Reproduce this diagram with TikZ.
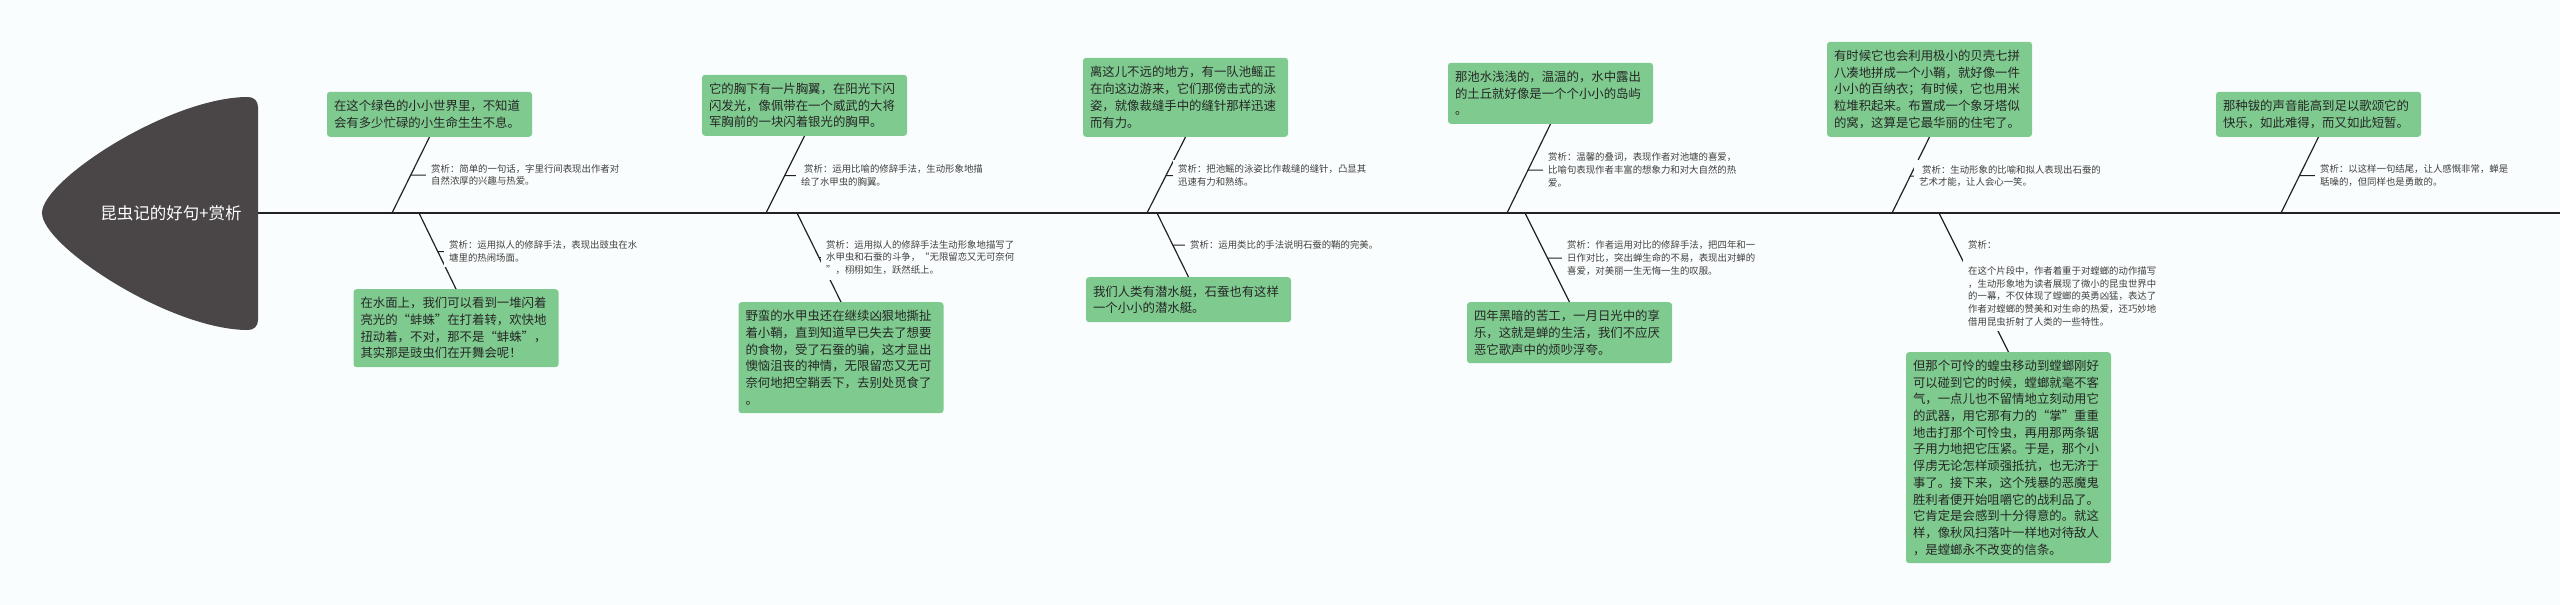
\documentclass[tikz,border=0pt]{standalone}
\usepackage{fontspec}
\newfontfamily\cjk{Noto Sans CJK SC}
\usetikzlibrary{calc}
\definecolor{bgc}{RGB}{250,253,253}
\definecolor{headc}{RGB}{74,69,70}
\definecolor{boxc}{RGB}{127,203,143}
\definecolor{txtc}{RGB}{38,38,38}
\definecolor{anac}{RGB}{64,64,64}
\definecolor{linec}{RGB}{34,34,34}
\pgfdeclarelayer{bottom}
\pgfdeclarelayer{lines}
\pgfsetlayers{bottom,lines,main}
\begin{document}
\begin{tikzpicture}[x=1pt,y=-1pt,
  sent/.style={fill=boxc, rounded corners=3pt, text=txtc,
    font=\cjk\fontsize{12.4}{16.7}\selectfont, align=left,
    text width=191pt, inner xsep=7pt, inner ysep=0pt},
  ana/.style={fill=bgc, text=anac, font=\cjk\fontsize{9.4}{12.8}\selectfont,
    align=left, inner sep=5pt, anchor=west},
  spineline/.style={draw=linec, line width=1.5pt},
  bone/.style={draw=linec, line width=1.2pt},
  tickline/.style={draw=linec, line width=1pt}]
\useasboundingbox (0,0) rectangle (2560,605);
\begin{pgfonlayer}{bottom}
\fill[bgc] (0,0) rectangle (2560,605);
\end{pgfonlayer}

% head
\fill[headc] (42,213) .. controls (42,180) and (170,97) .. (248,97)
  .. controls (254,97) and (258,101) .. (258,107) -- (258,320)
  .. controls (258,326) and (254,330) .. (248,330)
  .. controls (170,330) and (42,246) .. (42,213) -- cycle;
\node[text=white, font=\cjk\fontsize{16.5}{20}\selectfont] (title) at (171,213) {昆虫记的好句+赏析};

% spine coordinates
\coordinate (sp0) at (258,213);
\coordinate (sp1) at (2560,213);
\coordinate (s1u) at (392,213);
\coordinate (s1d) at (419,213);
\coordinate (s2u) at (766,213);
\coordinate (s2d) at (797,213);
\coordinate (s3u) at (1147,213);
\coordinate (s3d) at (1157,213);
\coordinate (s4u) at (1507,213);
\coordinate (s4d) at (1525,213);
\coordinate (s5u) at (1892,213);
\coordinate (s5d) at (1939,213);
\coordinate (s6u) at (2281,213);

% sentence boxes
\node[sent, anchor=south, minimum height=45pt] (B1) at (429.5,137) {在这个绿色的小小世界里，不知道\\会有多少忙碌的小生命生生不息。};
\node[sent, anchor=north, minimum height=78pt] (B2) at (456,289) {在水面上，我们可以看到一堆闪着\\亮光的“蚌蛛”在打着转，欢快地\\扭动着，不对，那不是“蚌蛛”，\\其实那是豉虫们在开舞会呢！};
\node[sent, anchor=south, minimum height=61pt] (B3) at (804.5,136) {它的胸下有一片胸翼，在阳光下闪\\闪发光，像佩带在一个威武的大将\\军胸前的一块闪着银光的胸甲。};
\node[sent, anchor=north, minimum height=111pt] (B4) at (841,302) {野蛮的水甲虫还在继续凶狠地撕扯\\着小鞘，直到知道早已失去了想要\\的食物，受了石蚕的骗，这才显出\\懊恼沮丧的神情，无限留恋又无可\\奈何地把空鞘丢下，去别处觅食了\\。};
\node[sent, anchor=south, minimum height=79pt] (B5) at (1185.5,137) {离这儿不远的地方，有一队池鳐正\\在向这边游来，它们那傍击式的泳\\姿，就像裁缝手中的缝针那样迅速\\而有力。};
\node[sent, anchor=north, minimum height=45pt] (B6) at (1188.5,277) {我们人类有潜水艇，石蚕也有这样\\一个小小的潜水艇。};
\node[sent, anchor=south, minimum height=61pt] (B7) at (1550.5,124) {那池水浅浅的，温温的，水中露出\\的土丘就好像是一个个小小的岛屿\\。};
\node[sent, anchor=north, minimum height=61pt] (B8) at (1569.5,302) {四年黑暗的苦工，一月日光中的享\\乐，这就是蝉的生活，我们不应厌\\恶它歌声中的烦吵浮夸。};
\node[sent, anchor=south, minimum height=95pt] (B9) at (1929.5,137) {有时候它也会利用极小的贝壳七拼\\八凑地拼成一个小鞘，就好像一件\\小小的百纳衣；有时候，它也用米\\粒堆积起来。布置成一个象牙塔似\\的窝，这算是它最华丽的住宅了。};
\node[sent, anchor=north, minimum height=211pt] (B10) at (2008.5,352) {但那个可怜的蝗虫移动到螳螂刚好\\可以碰到它的时候，螳螂就毫不客\\气，一点儿也不留情地立刻动用它\\的武器，用它那有力的“掌”重重\\地击打那个可怜虫，再用那两条锯\\子用力地把它压紧。于是，那个小\\俘虏无论怎样顽强抵抗，也无济于\\事了。接下来，这个残暴的恶魔鬼\\胜利者便开始咀嚼它的战利品了。\\它肯定是会感到十分得意的。就这\\样，像秋风扫落叶一样地对待敌人\\，是螳螂永不改变的信条。};
\node[sent, anchor=south, minimum height=45pt] (B11) at (2318.5,137) {那种钹的声音能高到足以歌颂它的\\快乐，如此难得，而又如此短暂。};

% analysis labels
\node[ana] (L1) at (426,175) {赏析：简单的一句话，字里行间表现出作者对\\自然浓厚的兴趣与热爱。};
\node[ana] (L2) at (444,251.5) {赏析：运用拟人的修辞手法，表现出豉虫在水\\塘里的热闹场面。};
\node[ana] (L3) at (796,175.5) {\hspace{3pt}赏析：运用比喻的修辞手法，生动形象地描\\绘了水甲虫的胸翼。};
\node[ana] (L4) at (821,257.5) {赏析：运用拟人的修辞手法生动形象地描写了\\水甲虫和石蚕的斗争，“无限留恋又无可奈何\\”，栩栩如生，跃然纸上。};
\node[ana] (L5) at (1173,175.5) {赏析：把池鳐的泳姿比作裁缝的缝针，凸显其\\迅速有力和熟练。};
\node[ana] (L6) at (1185,245) {赏析：运用类比的手法说明石蚕的鞘的完美。};
\node[ana] (L7) at (1543,170) {赏析：温馨的叠词，表现作者对池塘的喜爱，\\比喻句表现作者丰富的想象力和对大自然的热\\爱。};
\node[ana] (L8) at (1562,258) {赏析：作者运用对比的修辞手法，把四年和一\\日作对比，突出蝉生命的不易，表现出对蝉的\\喜爱，对美丽一生无悔一生的叹服。};
\node[ana] (L9) at (1914,176) {\hspace{3pt}赏析：生动形象的比喻和拟人表现出石蚕的\\艺术才能，让人会心一笑。};
\node[ana] (L10) at (1963,283.5) {赏析：\\[12.8pt]在这个片段中，作者着重于对螳螂的动作描写\\，生动形象地为读者展现了微小的昆虫世界中\\的一幕，不仅体现了螳螂的英勇凶猛，表达了\\作者对螳螂的赞美和对生命的热爱，还巧妙地\\借用昆虫折射了人类的一些特性。};
\node[ana] (L11) at (2315,175.5) {赏析：以这样一句结尾，让人感慨非常，蝉是\\聒噪的，但同样也是勇敢的。};

\begin{pgfonlayer}{lines}
\draw[spineline] (sp0) -- (sp1);
\draw[bone] (s1u) -- (B1.south);
\draw[bone] (s1d) -- (B2.north);
\draw[bone] (s2u) -- (B3.south);
\draw[bone] (s2d) -- (B4.north);
\draw[bone] (s3u) -- (B5.south);
\draw[bone] (s3d) -- (B6.north);
\draw[bone] (s4u) -- (B7.south);
\draw[bone] (s4d) -- (B8.north);
\draw[bone] (s5u) -- (B9.south);
\draw[bone] (s5d) -- (B10.north);
\draw[bone] (s6u) -- (B11.south);
\draw[tickline] (intersection of s1u--B1.south and L1.west--L1.east) -- (L1.west);
\draw[tickline] (intersection of s1d--B2.north and L2.west--L2.east) -- (L2.west);
\draw[tickline] (intersection of s2u--B3.south and L3.west--L3.east) -- (L3.west);
\draw[tickline] (intersection of s2d--B4.north and L4.west--L4.east) -- (L4.west);
\draw[tickline] (intersection of s3u--B5.south and L5.west--L5.east) -- (L5.west);
\draw[tickline] (intersection of s3d--B6.north and L6.west--L6.east) -- (L6.west);
\draw[tickline] (intersection of s4u--B7.south and L7.west--L7.east) -- (L7.west);
\draw[tickline] (intersection of s4d--B8.north and L8.west--L8.east) -- (L8.west);
\draw[tickline] (intersection of s5u--B9.south and L9.west--L9.east) -- (L9.west);
\draw[tickline] (intersection of s5d--B10.north and L10.west--L10.east) -- (L10.west);
\draw[tickline] (intersection of s6u--B11.south and L11.west--L11.east) -- (L11.west);
\end{pgfonlayer}
\end{tikzpicture}
\end{document}
